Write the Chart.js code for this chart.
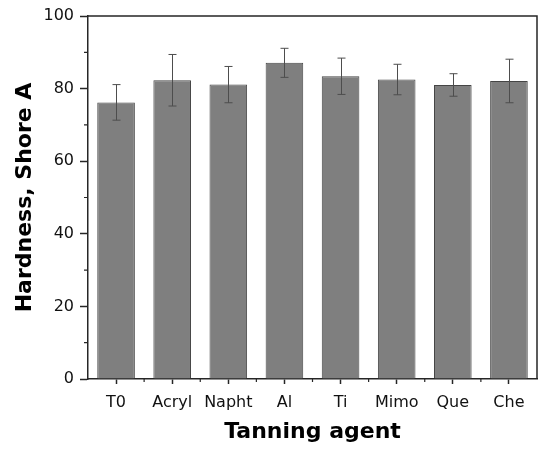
<!DOCTYPE html>
<html>
<head>
<meta charset="utf-8">
<script src="https://cdn.jsdelivr.net/npm/chart.js@4"></script>
<style>
html,body{margin:0;padding:0;background:#fff;}
#wrap{width:539px;height:449px;}
</style>
</head>
<body>
<div id="wrap"><canvas id="c" width="539" height="449"></canvas></div>
<script>
const categories = ['T0', 'Acryl', 'Napht', 'Al', 'Ti', 'Mimo', 'Que', 'Che'];
const hardness = [76.2, 82.3, 81.1, 87.1, 83.4, 82.5, 81.0, 82.1];
const hardnessErr = [4.9, 7.1, 5.0, 4.0, 5.0, 4.2, 3.1, 6.0];
const yTicks = [0, 20, 40, 60, 80, 100];
const yMinorTicks = [10, 30, 50, 70, 90];

const AXIS_COLOR = '#262626';
const FONT = "'DejaVu Sans', sans-serif";

const extrasPlugin = {
  id: 'extras',
  afterDatasetsDraw(chart) {
    const ctx = chart.ctx;
    const xs = chart.scales.x, ys = chart.scales.y;
    const meta = chart.getDatasetMeta(0);
    ctx.save();
    // error bars
    ctx.strokeStyle = '#4d4d4d';
    ctx.lineWidth = 1;
    meta.data.forEach((bar, i) => {
      const v = hardness[i], e = hardnessErr[i];
      const x = Math.round(bar.x) + 0.5;
      const yHi = ys.getPixelForValue(v + e);
      const yLo = ys.getPixelForValue(v - e);
      ctx.beginPath();
      ctx.moveTo(x, yHi); ctx.lineTo(x, yLo);
      ctx.moveTo(x - 4, yHi); ctx.lineTo(x + 4, yHi);
      ctx.moveTo(x - 4, yLo); ctx.lineTo(x + 4, yLo);
      ctx.stroke();
    });
    const a = chart.chartArea;
    // frame top/right
    ctx.strokeStyle = AXIS_COLOR;
    ctx.lineWidth = 1.5;
    ctx.beginPath();
    ctx.moveTo(a.left, a.top);
    ctx.lineTo(a.right, a.top);
    ctx.lineTo(a.right, a.bottom);
    ctx.stroke();
    // y minor ticks
    ctx.lineWidth = 1.2;
    ctx.beginPath();
    yMinorTicks.forEach(v => {
      const y = ys.getPixelForValue(v);
      ctx.moveTo(a.left - 4, y); ctx.lineTo(a.left, y);
    });
    // x minor ticks at category boundaries
    for (let i = 0; i < categories.length - 1; i++) {
      const x = (xs.getPixelForValue(i) + xs.getPixelForValue(i + 1)) / 2;
      ctx.moveTo(x, a.bottom); ctx.lineTo(x, a.bottom + 3);
    }
    ctx.stroke();
    ctx.restore();
  }
};

new Chart(document.getElementById('c'), {
  type: 'bar',
  data: {
    labels: categories,
    datasets: [{
      data: hardness,
      backgroundColor: '#7f7f7f',
      borderColor: '#454545',
      borderWidth: 1,
      categoryPercentage: 1,
      barPercentage: 0.67
    }]
  },
  options: {
    responsive: false,
    animation: false,
    devicePixelRatio: 1,
    layout: { padding: { top: 16, right: 2, left: 0, bottom: 0 } },
    plugins: { legend: { display: false }, tooltip: { enabled: false } },
    scales: {
      x: {
        offset: true,
        grid: { offset: false, drawOnChartArea: false, drawTicks: true, tickLength: 5, tickColor: AXIS_COLOR, tickWidth: 1.5 },
        border: { display: true, color: AXIS_COLOR, width: 1.5 },
        ticks: { color: '#111', font: { family: FONT, size: 16 }, padding: 9, maxRotation: 0, autoSkip: false },
        title: { display: true, text: 'Tanning agent', color: '#000', font: { family: FONT, size: 22, weight: 'bold' }, padding: { top: 0, bottom: 4 } },
        afterFit(s) { s.height = 70; }
      },
      y: {
        min: 0, max: 100,
        afterBuildTicks(s) { s.ticks = yTicks.map(v => ({ value: v })); },
        grid: { drawOnChartArea: false, drawTicks: true, tickLength: 8, tickColor: AXIS_COLOR, tickWidth: 1.5 },
        border: { display: true, color: AXIS_COLOR, width: 1.5 },
        ticks: { color: '#111', font: { family: FONT, size: 16 }, padding: 6 },
        title: { display: true, text: 'Hardness, Shore A', color: '#000', font: { family: FONT, size: 22, weight: 'bold' }, padding: { top: 12, bottom: 0 } },
        afterFit(s) { s.width = 88; }
      }
    }
  },
  plugins: [extrasPlugin]
});
</script>
</body>
</html>
